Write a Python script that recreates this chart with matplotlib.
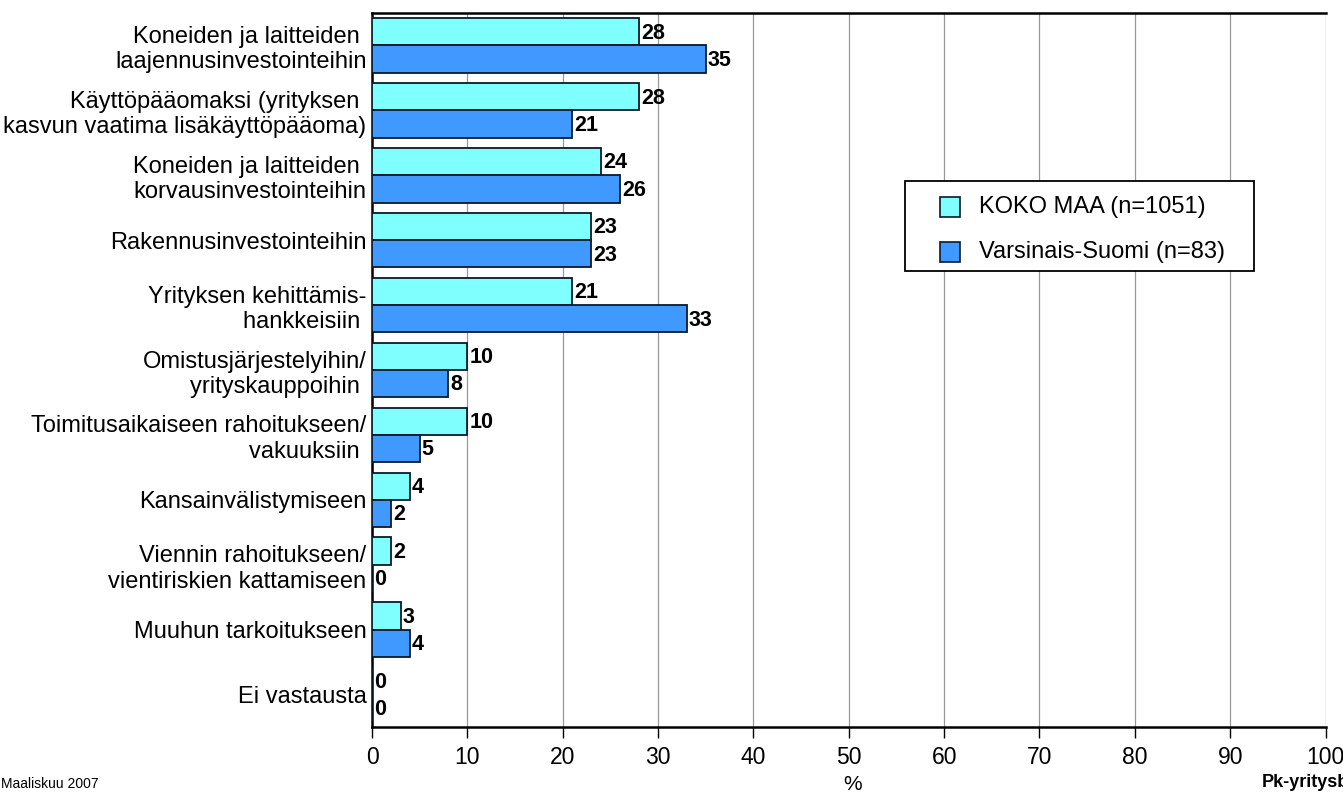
import numpy as np
import matplotlib
matplotlib.use("Agg")
import matplotlib.pyplot as plt
from matplotlib.patches import Rectangle

plt.rcParams['font.family'] = ['Liberation Sans', 'DejaVu Sans']

categories = [
    "Koneiden ja laitteiden \nlaajennusinvestointeihin",
    "Käyttöpääomaksi (yrityksen \nkasvun vaatima lisäkäyttöpääoma)",
    "Koneiden ja laitteiden \nkorvausinvestointeihin",
    "Rakennusinvestointeihin",
    "Yrityksen kehittämis-\nhankkeisiin ",
    "Omistusjärjestelyihin/\nyrityskauppoihin ",
    "Toimitusaikaiseen rahoitukseen/\nvakuuksiin ",
    "Kansainvälistymiseen",
    "Viennin rahoitukseen/\nvientiriskien kattamiseen",
    "Muuhun tarkoitukseen",
    "Ei vastausta",
]
koko_maa = [28, 28, 24, 23, 21, 10, 10, 4, 2, 3, 0]
varsinais = [35, 21, 26, 23, 33, 8, 5, 2, 0, 4, 0]
series_names = ["KOKO MAA (n=1051)", "Varsinais-Suomi (n=83)"]
colors = ['#80ffff', '#4099ff']

fig = plt.figure(figsize=(13.43, 7.94), dpi=100)
ax = fig.add_axes([0.277, 0.0844, 0.710, 0.8992])

y = np.arange(len(categories))
h = 0.42
b1 = ax.barh(y - h / 2, koko_maa, height=h, color=colors[0], edgecolor='#0a1a2a',
             linewidth=1.3, zorder=3)
b2 = ax.barh(y + h / 2, varsinais, height=h, color=colors[1], edgecolor='#0a1a2a',
             linewidth=1.3, zorder=3)

for bars, vals in [(b1, koko_maa), (b2, varsinais)]:
    for bar, v in zip(bars, vals):
        ax.text(v + 0.2, bar.get_y() + bar.get_height() / 2 + 0.02, str(v),
                ha='left', va='center', fontsize=15.5, fontweight='bold', zorder=4)

ax.set_xlim(0, 100)
ax.set_ylim(len(categories) - 0.5, -0.5)
ax.set_xticks(np.arange(0, 101, 10))
ax.tick_params(axis='x', labelsize=16.5, length=8, width=1, direction='out', pad=6)
ax.set_yticks(y)
ax.set_yticklabels(categories, fontsize=17, linespacing=1.2, ha='right')
ax.tick_params(axis='y', length=0, pad=4)
ax.grid(axis='x', color='#999999', linewidth=0.9, zorder=0)

for s in ['left', 'bottom', 'top']:
    ax.spines[s].set_linewidth(1.8)
    ax.spines[s].set_color('black')
ax.spines['right'].set_visible(False)

# legend box drawn by hand (handles sit well inside the frame)
ax.add_patch(Rectangle((0.5587, 0.6387), 0.3658, 0.126, transform=ax.transAxes,
                       facecolor='white', edgecolor='black', linewidth=1.3, zorder=5))
for i, (name, c) in enumerate(zip(series_names, colors)):
    yc = 0.7283 - i * 0.063
    ax.add_patch(Rectangle((0.5954, yc - 0.014), 0.021, 0.028, transform=ax.transAxes,
                           facecolor=c, edgecolor='#0a1a2a', linewidth=1.2, zorder=6))
    ax.text(0.637, yc, name, transform=ax.transAxes, fontsize=17,
            ha='left', va='center', zorder=6)

fig.text(0.001, 0.004, "Maaliskuu 2007", fontsize=10, ha='left', va='bottom')
fig.text(0.635, 0.0, "%", fontsize=15, ha='center', va='bottom')
fig.text(0.9397, 0.004, "Pk-yritysbarometri", fontsize=13, fontweight='bold',
         ha='left', va='bottom')

fig.savefig("out.png", dpi=100)
